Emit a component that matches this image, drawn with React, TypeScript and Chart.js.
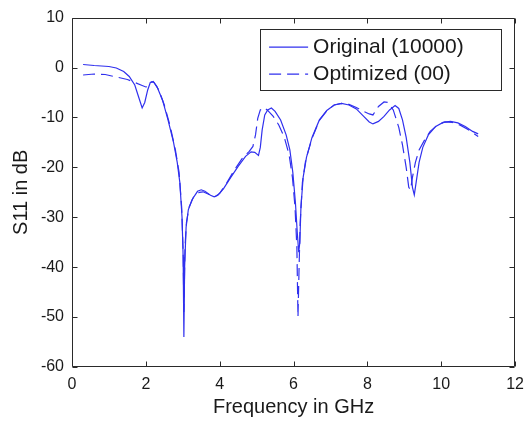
import React, { useEffect, useRef } from "react";
import { Chart, registerables } from "chart.js";

Chart.register(...registerables);

// Frequency (GHz) and S11 (dB) for the original design (solid line)
const origFreq = [
  0.3, 0.6, 1.0, 1.2, 1.4, 1.55, 1.7, 1.8, 1.9, 1.97, 2.05, 2.12, 2.2, 2.3, 2.45, 2.6, 2.75, 2.85, 2.92, 2.98,
  3.01, 3.03, 3.05, 3.09, 3.15, 3.25, 3.4, 3.5, 3.6, 3.75, 3.85, 3.95, 4.1, 4.3, 4.5, 4.7, 4.85, 4.95, 5.05, 5.1,
  5.15, 5.22, 5.3, 5.4, 5.5, 5.65, 5.8, 5.9, 5.98, 6.05, 6.1, 6.14, 6.17, 6.2, 6.26, 6.35, 6.5, 6.7, 6.9, 7.1,
  7.3, 7.5, 7.7, 7.9, 8.05, 8.15, 8.3, 8.45, 8.6, 8.75, 8.85, 8.95, 9.05, 9.15, 9.22, 9.27, 9.32, 9.4, 9.5, 9.65,
  9.85, 10.05, 10.25, 10.45, 10.65, 10.85, 11.0,
];
const origS11 = [
  0.6, 0.4, 0.2, -0.1, -0.8, -1.8, -3.5, -5.8, -8.1, -7.0, -4.5, -3.0, -2.8, -3.8, -6.5, -10.5, -15.0, -19.0, -23.0, -30.0,
  -38.0, -54.0, -40.0, -32.0, -28.5, -26.5, -24.8, -24.5, -24.8, -25.6, -25.9, -25.6, -24.3, -22.0, -19.8, -17.8, -16.9, -17.0, -17.6, -16.0,
  -12.5, -9.5, -8.5, -8.1, -8.8, -10.5, -13.5, -16.5, -21.0, -27.0, -33.0, -37.0, -35.0, -28.0, -22.0, -18.0, -14.0, -10.5, -8.6, -7.5,
  -7.2, -7.5, -8.3, -9.8, -10.9, -11.3, -10.8, -9.8, -8.5, -7.6, -8.2, -10.5, -14.0, -19.0, -24.0, -25.5, -23.0, -19.0, -16.0, -13.5,
  -11.8, -11.0, -10.8, -11.1, -11.8, -12.8, -13.3,
];

// Frequency (GHz) and S11 (dB) for the optimized design (dashed line)
const optFreq = [
  0.3, 0.6, 0.9, 1.2, 1.5, 1.7, 1.9, 2.0, 2.07, 2.15, 2.22, 2.35, 2.5, 2.65, 2.8, 2.9, 2.97, 3.01, 3.03, 3.06,
  3.1, 3.17, 3.3, 3.45, 3.55, 3.7, 3.85, 4.0, 4.2, 4.4, 4.6, 4.8, 4.9, 4.97, 5.03, 5.1, 5.2, 5.3, 5.45, 5.6,
  5.75, 5.88, 5.97, 6.04, 6.09, 6.12, 6.15, 6.18, 6.24, 6.33, 6.5, 6.7, 6.9, 7.1, 7.3, 7.5, 7.7, 7.9, 8.05, 8.15,
  8.3, 8.45, 8.55, 8.7, 8.85, 8.95, 9.05, 9.12, 9.17, 9.22, 9.3, 9.4, 9.55, 9.7, 9.9, 10.1, 10.3, 10.5, 10.7, 10.9,
  11.0,
];
const optS11 = [
  -1.5, -1.3, -1.4, -1.9, -2.4, -3.0, -3.6, -3.9, -3.8, -2.9, -3.0, -4.5, -7.5, -11.5, -16.5, -21.0, -28.0, -37.0, -49.0, -36.0,
  -31.0, -28.0, -25.8, -25.0, -24.9, -25.4, -26.0, -25.2, -23.0, -20.5, -18.3, -16.8, -15.8, -13.5, -10.2, -8.5, -8.0, -8.6, -9.8, -11.5,
  -14.0, -17.5, -22.0, -28.0, -36.0, -50.0, -40.0, -31.0, -23.0, -18.5, -14.2, -10.6, -8.7, -7.5, -7.2, -7.4, -8.0, -8.8, -9.3, -9.5,
  -7.8, -6.9, -7.0, -8.5, -12.0, -15.5, -20.0, -24.0, -24.5, -22.0, -19.0, -16.5, -14.5, -12.8, -11.5, -10.9, -11.0, -11.5, -12.3, -13.3,
  -13.8,
];

const seriesLabels = ["Original (10000)", "Optimized (00)"];
const xRange = [0, 12];
const yRange = [-60, 10];
const xStep = 2;
const yStep = 10;
const xTitle = "Frequency in GHz";
const yTitle = "S11 in dB";

const FONT = "'Liberation Sans', Arial, Helvetica, sans-serif";
const LINE_COLOR = "rgb(48, 48, 238)";
const AXIS_COLOR = "#2a2a2a";

const toPoints = (xs: number[], ys: number[]) => xs.map((x, i) => ({ x, y: ys[i] }));

const axesBox = {
  id: "axesBox",
  afterDatasetsDraw(chart: any) {
    const { ctx, chartArea: a, scales } = chart;
    const xs = scales.x;
    const ys = scales.y;
    const tl = 5;
    ctx.save();
    ctx.strokeStyle = AXIS_COLOR;
    ctx.lineWidth = 1;
    ctx.setLineDash([]);
    const L = Math.round(a.left) + 0.5;
    const R = Math.round(a.right) - 0.5;
    const T = Math.round(a.top) + 0.5;
    const B = Math.round(a.bottom) - 0.5;
    ctx.beginPath();
    ctx.rect(L, T, R - L, B - T);
    xs.ticks.forEach((t: any) => {
      const px = Math.round(xs.getPixelForValue(t.value)) + 0.5;
      ctx.moveTo(px, B);
      ctx.lineTo(px, B - tl);
      ctx.moveTo(px, T);
      ctx.lineTo(px, T + tl);
    });
    ys.ticks.forEach((t: any) => {
      const py = Math.round(ys.getPixelForValue(t.value)) + 0.5;
      ctx.moveTo(L, py);
      ctx.lineTo(L + tl, py);
      ctx.moveTo(R, py);
      ctx.lineTo(R - tl, py);
    });
    ctx.stroke();
    ctx.restore();
  },
};

const boxedLegend = {
  id: "boxedLegend",
  afterDraw(chart: any) {
    const { ctx, chartArea: a } = chart;
    const right = a.right - 14;
    const top = a.top + 11;
    const w = 241;
    const h = 61;
    const left = right - w;
    ctx.save();
    ctx.fillStyle = "#fff";
    ctx.fillRect(left, top, w, h);
    ctx.strokeStyle = AXIS_COLOR;
    ctx.lineWidth = 1;
    ctx.setLineDash([]);
    ctx.strokeRect(Math.round(left) + 0.5, Math.round(top) + 0.5, w, h);
    chart.data.datasets.forEach((ds: any, i: number) => {
      const cy = top + 18 + i * 27;
      ctx.strokeStyle = ds.borderColor;
      ctx.lineWidth = ds.borderWidth;
      ctx.setLineDash(ds.borderDash || []);
      ctx.beginPath();
      ctx.moveTo(left + 9, cy + 0.5);
      ctx.lineTo(left + 48, cy + 0.5);
      ctx.stroke();
      ctx.setLineDash([]);
      ctx.fillStyle = "#1a1a1a";
      ctx.font = `21px ${FONT}`;
      ctx.textBaseline = "middle";
      ctx.textAlign = "left";
      ctx.fillText(ds.label, left + 53, cy + 1);
    });
    ctx.restore();
  },
};

export default function App() {
  const ref = useRef<HTMLCanvasElement | null>(null);

  useEffect(() => {
    if (!ref.current) return;
    const chart = new Chart(ref.current, {
      type: "line",
      data: {
        datasets: [
          {
            label: seriesLabels[0],
            data: toPoints(origFreq, origS11),
            borderColor: LINE_COLOR,
            borderWidth: 1.2,
            pointRadius: 0,
            tension: 0,
            fill: false,
          },
          {
            label: seriesLabels[1],
            data: toPoints(optFreq, optS11),
            borderColor: LINE_COLOR,
            borderWidth: 1.2,
            borderDash: [12, 6],
            pointRadius: 0,
            tension: 0,
            fill: false,
          },
        ],
      },
      options: {
        responsive: false,
        animation: false,
        layout: { padding: { top: 16, right: 15, left: 0, bottom: 0 } },
        plugins: {
          legend: { display: false },
          tooltip: { enabled: false },
        },
        scales: {
          x: {
            type: "linear",
            min: xRange[0],
            max: xRange[1],
            grid: { display: false, drawTicks: false },
            border: { display: false },
            ticks: {
              stepSize: xStep,
              padding: 8,
              color: "#1a1a1a",
              font: { family: FONT, size: 16 },
              maxRotation: 0,
            },
            title: {
              display: true,
              text: xTitle,
              color: "#1a1a1a",
              font: { family: FONT, size: 20 },
              padding: { top: 0, bottom: 2 },
            },
            afterFit(scale: any) {
              scale.height = 54;
            },
          },
          y: {
            type: "linear",
            min: yRange[0],
            max: yRange[1],
            grid: { display: false, drawTicks: false },
            border: { display: false },
            ticks: {
              stepSize: yStep,
              padding: 8,
              color: "#1a1a1a",
              font: { family: FONT, size: 16 },
            },
            title: {
              display: true,
              text: yTitle,
              color: "#1a1a1a",
              font: { family: FONT, size: 20 },
              padding: { top: 9, bottom: 0 },
            },
            afterFit(scale: any) {
              scale.width = 72;
            },
          },
        },
      },
      plugins: [axesBox, boxedLegend],
    } as any);
    return () => chart.destroy();
  }, []);

  return (
    <div style={{ position: "absolute", left: 0, top: 0, width: 532, height: 421, background: "#fff" }}>
      <canvas ref={ref} width={532} height={421} style={{ display: "block" }} />
    </div>
  );
}
